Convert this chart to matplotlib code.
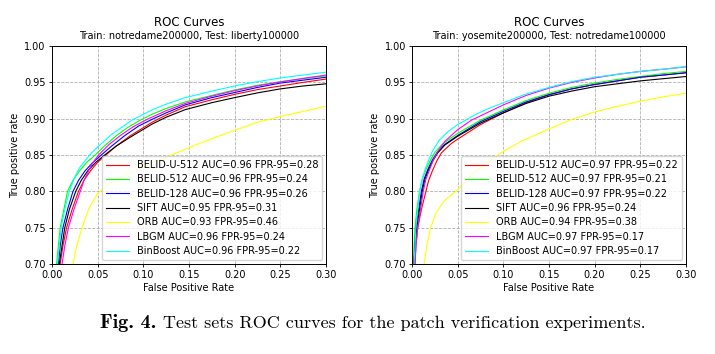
import numpy as np
import matplotlib
matplotlib.use('Agg')
import matplotlib.pyplot as plt

methods = ['BELID-U-512', 'BELID-512', 'BELID-128', 'SIFT', 'ORB', 'LBGM', 'BinBoost']
colors = ['red', 'lime', 'blue', 'black', 'yellow', 'magenta', 'cyan']

# panel 1: train notredame, test liberty
auc_1 = [0.96, 0.96, 0.96, 0.95, 0.93, 0.96, 0.96]
fpr95_1 = [0.28, 0.24, 0.26, 0.31, 0.46, 0.24, 0.22]
fpr_1 = {
    'BELID-U-512': [0.009, 0.012, 0.016, 0.022, 0.029, 0.035, 0.042, 0.050, 0.059, 0.070, 0.085, 0.1095, 0.125, 0.146, 0.175, 0.20, 0.225, 0.25, 0.275, 0.30],
    'BELID-512':   [0.005, 0.007, 0.009, 0.013, 0.017, 0.023, 0.030, 0.038, 0.0474, 0.058, 0.070, 0.083, 0.0967, 0.1095, 0.125, 0.146, 0.175, 0.20, 0.225, 0.25, 0.275, 0.30],
    'BELID-128':   [0.007, 0.009, 0.012, 0.017, 0.023, 0.029, 0.036, 0.045, 0.054, 0.065, 0.080, 0.095, 0.1095, 0.125, 0.146, 0.175, 0.20, 0.225, 0.25, 0.275, 0.30],
    'SIFT':        [0.008, 0.011, 0.014, 0.019, 0.026, 0.032, 0.039, 0.048, 0.0577, 0.070, 0.085, 0.1095, 0.125, 0.146, 0.175, 0.20, 0.225, 0.25, 0.275, 0.30],
    'ORB':         [0.023, 0.027, 0.033, 0.040, 0.050, 0.062, 0.075, 0.10, 0.125, 0.146, 0.17, 0.20, 0.225, 0.25, 0.275, 0.30],
    'LBGM':        [0.011, 0.014, 0.018, 0.024, 0.031, 0.035, 0.040, 0.045, 0.051, 0.062, 0.075, 0.089, 0.104, 0.125, 0.146, 0.175, 0.20, 0.225, 0.25, 0.275, 0.30],
    'BinBoost':    [0.006, 0.008, 0.010, 0.014, 0.019, 0.024, 0.030, 0.036, 0.042, 0.050, 0.065, 0.0876, 0.1095, 0.125, 0.146, 0.175, 0.20, 0.225, 0.25, 0.275, 0.30],
}
tpr_1 = {
    'BELID-U-512': [0.70, 0.725, 0.75, 0.775, 0.80, 0.815, 0.828, 0.840, 0.85, 0.862, 0.876, 0.895, 0.905, 0.9165, 0.926, 0.9335, 0.940, 0.945, 0.950, 0.9545],
    'BELID-512':   [0.70, 0.725, 0.75, 0.775, 0.80, 0.815, 0.828, 0.840, 0.85, 0.863, 0.876, 0.888, 0.898, 0.906, 0.914, 0.923, 0.932, 0.9395, 0.946, 0.951, 0.955, 0.959],
    'BELID-128':   [0.70, 0.725, 0.75, 0.775, 0.80, 0.815, 0.828, 0.840, 0.85, 0.862, 0.877, 0.890, 0.899, 0.908, 0.919, 0.929, 0.936, 0.943, 0.949, 0.953, 0.957],
    'SIFT':        [0.70, 0.725, 0.75, 0.775, 0.80, 0.815, 0.828, 0.840, 0.85, 0.862, 0.874, 0.8925, 0.902, 0.9125, 0.922, 0.929, 0.9355, 0.941, 0.945, 0.948],
    'ORB':         [0.70, 0.725, 0.75, 0.775, 0.797, 0.810, 0.819, 0.834, 0.847, 0.858, 0.870, 0.884, 0.895, 0.903, 0.910, 0.917],
    'LBGM':        [0.70, 0.725, 0.75, 0.775, 0.80, 0.815, 0.828, 0.840, 0.85, 0.864, 0.877, 0.889, 0.899, 0.911, 0.921, 0.931, 0.9385, 0.945, 0.9505, 0.9555, 0.960],
    'BinBoost':    [0.70, 0.725, 0.75, 0.775, 0.80, 0.817, 0.832, 0.842, 0.851, 0.861, 0.878, 0.898, 0.912, 0.920, 0.929, 0.938, 0.945, 0.951, 0.956, 0.960, 0.964],
}

# panel 2: train yosemite, test notredame
auc_2 = [0.97, 0.97, 0.97, 0.96, 0.94, 0.97, 0.97]
fpr95_2 = [0.22, 0.21, 0.22, 0.24, 0.38, 0.17, 0.17]
fpr_2 = {
    'BELID-U-512': [0.003, 0.004, 0.006, 0.010, 0.015, 0.018, 0.022, 0.027, 0.032, 0.043, 0.05, 0.075, 0.10, 0.125, 0.15, 0.175, 0.20, 0.225, 0.25, 0.275, 0.30],
    'BELID-512':   [0.001, 0.002, 0.003, 0.005, 0.008, 0.011, 0.015, 0.020, 0.025, 0.033, 0.05, 0.075, 0.10, 0.125, 0.15, 0.175, 0.20, 0.225, 0.25, 0.275, 0.30],
    'BELID-128':   [0.002, 0.003, 0.004, 0.007, 0.010, 0.013, 0.017, 0.022, 0.027, 0.035, 0.05, 0.075, 0.10, 0.125, 0.15, 0.175, 0.20, 0.225, 0.25, 0.275, 0.30],
    'SIFT':        [0.002, 0.003, 0.005, 0.008, 0.011, 0.014, 0.018, 0.023, 0.028, 0.036, 0.05, 0.075, 0.10, 0.125, 0.15, 0.175, 0.20, 0.225, 0.25, 0.275, 0.30],
    'ORB':         [0.013, 0.016, 0.020, 0.026, 0.035, 0.048, 0.065, 0.085, 0.10, 0.12, 0.15, 0.175, 0.20, 0.225, 0.25, 0.275, 0.30],
    'LBGM':        [0.003, 0.004, 0.006, 0.009, 0.012, 0.015, 0.019, 0.023, 0.028, 0.036, 0.05, 0.065, 0.08, 0.10, 0.125, 0.15, 0.175, 0.20, 0.225, 0.25, 0.275, 0.30],
    'BinBoost':    [0.002, 0.003, 0.004, 0.006, 0.008, 0.011, 0.014, 0.018, 0.022, 0.030, 0.040, 0.05, 0.06, 0.07, 0.08, 0.10, 0.125, 0.15, 0.175, 0.20, 0.225, 0.25, 0.275, 0.30],
}
tpr_2 = {
    'BELID-U-512': [0.70, 0.725, 0.75, 0.775, 0.80, 0.815, 0.828, 0.842, 0.853, 0.866, 0.872, 0.892, 0.908, 0.922, 0.933, 0.941, 0.947, 0.952, 0.957, 0.960, 0.9635],
    'BELID-512':   [0.70, 0.725, 0.75, 0.775, 0.80, 0.817, 0.830, 0.843, 0.854, 0.865, 0.880, 0.898, 0.912, 0.925, 0.935, 0.943, 0.949, 0.954, 0.958, 0.962, 0.965],
    'BELID-128':   [0.70, 0.725, 0.75, 0.775, 0.80, 0.817, 0.830, 0.843, 0.853, 0.864, 0.877, 0.896, 0.910, 0.923, 0.933, 0.941, 0.947, 0.952, 0.957, 0.960, 0.963],
    'SIFT':        [0.70, 0.725, 0.75, 0.775, 0.80, 0.817, 0.830, 0.843, 0.853, 0.864, 0.876, 0.894, 0.908, 0.921, 0.931, 0.938, 0.944, 0.948, 0.952, 0.955, 0.958],
    'ORB':         [0.70, 0.725, 0.75, 0.770, 0.787, 0.80, 0.823, 0.842, 0.855, 0.869, 0.886, 0.899, 0.909, 0.917, 0.924, 0.930, 0.935],
    'LBGM':        [0.70, 0.725, 0.75, 0.775, 0.80, 0.817, 0.830, 0.843, 0.855, 0.869, 0.885, 0.898, 0.907, 0.919, 0.932, 0.942, 0.950, 0.956, 0.961, 0.965, 0.968, 0.9713],
    'BinBoost':    [0.70, 0.725, 0.75, 0.775, 0.80, 0.817, 0.830, 0.843, 0.855, 0.871, 0.883, 0.892, 0.899, 0.906, 0.912, 0.922, 0.934, 0.943, 0.951, 0.957, 0.961, 0.965, 0.968, 0.9716],
}

subtitles = ['Train: notredame200000, Test: liberty100000',
             'Train: yosemite200000, Test: notredame100000']

fig = plt.figure(figsize=(7.15, 3.54), dpi=100)
ax1 = fig.add_axes([0.0727, 0.2542, 0.3832, 0.6158])
ax2 = fig.add_axes([0.5766, 0.2542, 0.3824, 0.6158])

panels = [(ax1, fpr_1, tpr_1, auc_1, fpr95_1, subtitles[0]),
          (ax2, fpr_2, tpr_2, auc_2, fpr95_2, subtitles[1])]

for ax, fpr, tpr, auc, f95, sub in panels:
    for i, m in enumerate(methods):
        ax.plot(fpr[m], tpr[m], color=colors[i], lw=0.8,
                label='%s AUC=%.2f FPR-95=%.2f' % (m, auc[i], f95[i]))
    ax.set_xlim(0, 0.30)
    ax.set_ylim(0.70, 1.00)
    ax.set_xticks(np.arange(0, 0.301, 0.05))
    ax.set_yticks(np.arange(0.70, 1.001, 0.05))
    ax.xaxis.set_major_formatter(matplotlib.ticker.FormatStrFormatter('%.2f'))
    ax.yaxis.set_major_formatter(matplotlib.ticker.FormatStrFormatter('%.2f'))
    ax.tick_params(labelsize=7, length=2.5, width=0.6, pad=2)
    ax.grid(True, linestyle='--', color='#b0b0b0', lw=0.6)
    for s in ax.spines.values():
        s.set_linewidth(0.7)
    ax.set_xlabel('False Positive Rate', fontsize=7, labelpad=2)
    ax.set_ylabel('True positive rate', fontsize=7, labelpad=3)
    ax.text(0.5, 1.045, sub, transform=ax.transAxes, ha='center', va='center', fontsize=7)
    ax.text(0.5, 1.107, 'ROC Curves', transform=ax.transAxes, ha='center', va='center', fontsize=8.5)
    ax.legend(loc='lower right', fontsize=7, handlelength=2.4, borderaxespad=0.4,
              labelspacing=0.45, borderpad=0.4)

# caption below the panels
fig.text(0.218, 0.088, 'Fig. 4.', family='cmb10', fontsize=14.5, ha='right', va='center')
fig.text(0.228, 0.088, 'Test sets ROC curves for the patch verification experiments.',
         family='cmr10', fontsize=13, ha='left', va='center')

fig.savefig('out.png', dpi=100)
